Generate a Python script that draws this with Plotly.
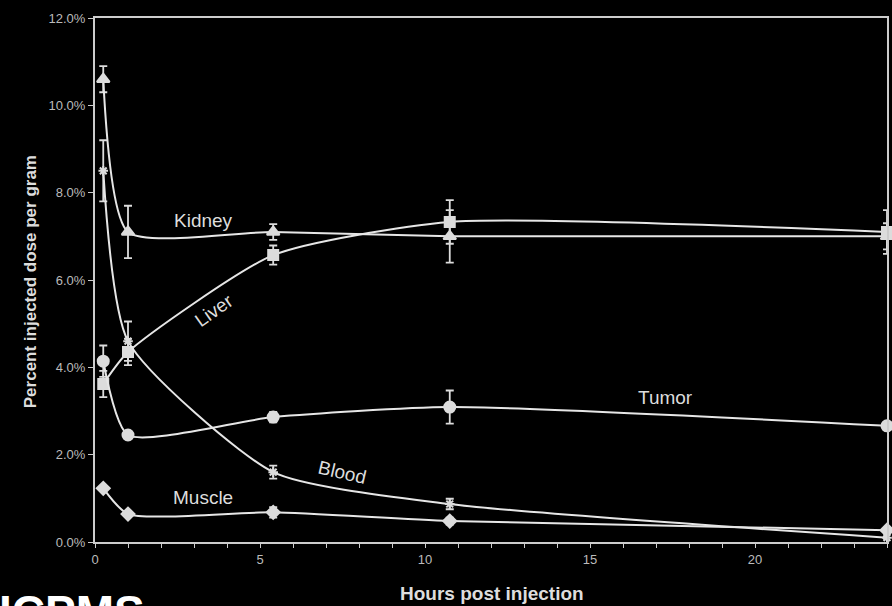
import plotly.graph_objects as go

hours = [0.25, 1.0, 5.4, 10.75, 24.0]

kidney = [10.6, 7.1, 7.1, 7.0, 7.0]
kidney_err = [0.3, 0.6, 0.18, 0.6, 0.3]

liver = [3.62, 4.35, 6.57, 7.33, 7.1]
liver_err = [0.3, 0.3, 0.22, 0.5, 0.5]

tumor = [4.14, 2.45, 2.86, 3.09, 2.66]
tumor_err = [0.36, 0.08, 0.12, 0.38, 0.05]

blood = [8.5, 4.6, 1.6, 0.87, 0.1]
blood_err = [0.7, 0.45, 0.15, 0.12, 0.03]

muscle = [1.23, 0.64, 0.68, 0.48, 0.27]
muscle_err = [0.05, 0.05, 0.12, 0.08, 0.03]

labels = ["Kidney", "Liver", "Tumor", "Blood", "Muscle"]
label_x = [3.3, 3.6, 17.3, 7.5, 3.27]
label_y = [7.37, 5.31, 3.32, 1.6, 1.03]
label_angle = [0, -35, 0, 13, 0]

LINE = "#e6e6e6"
MARK = "#dcdcdc"

series = [
    (kidney, kidney_err, "triangle-up", 11),
    (liver, liver_err, "square", 10),
    (tumor, tumor_err, "circle", 11),
    (blood, blood_err, "asterisk-open", 8),
    (muscle, muscle_err, "diamond", 10),
]

fig = go.Figure()
for vals, errs, sym, size in series:
    fig.add_trace(go.Scatter(
        x=hours, y=vals, mode="lines+markers",
        line=dict(color=LINE, width=2, shape="spline", smoothing=0.6),
        marker=dict(symbol=sym, size=size, color=MARK,
                    line=dict(color=MARK, width=2)),
        error_y=dict(type="data", array=errs, visible=True,
                     color=MARK, thickness=1.8, width=4),
        showlegend=False, cliponaxis=False,
    ))

for t, x, y, a in zip(labels, label_x, label_y, label_angle):
    fig.add_annotation(x=x, y=y, text=t, showarrow=False, textangle=a,
                       xanchor="center", yanchor="middle",
                       font=dict(family="Liberation Sans, Arial", size=19, color="#dddddd"))

fig.add_annotation(xref="paper", yref="paper", x=-0.0819, y=0.496,
                   xanchor="center", yanchor="middle",
                   text="<b>Percent injected dose per gram</b>", textangle=-90,
                   showarrow=False,
                   font=dict(family="Liberation Sans, Arial", size=17, color="#dddddd"))
fig.add_annotation(xref="paper", yref="paper", x=0.501, y=-0.099,
                   xanchor="center", yanchor="middle",
                   text="<b>Hours post injection</b>", showarrow=False,
                   font=dict(family="Liberation Sans, Arial", size=19, color="#dddddd"))
fig.add_annotation(xref="paper", yref="paper", x=-0.1234, y=-0.080,
                   xanchor="left", yanchor="top",
                   text="<b>ICPMS</b>", showarrow=False,
                   font=dict(family="Liberation Sans, Arial", size=46, color="#ffffff"))

fig.update_layout(
    width=892, height=606,
    margin=dict(l=95, r=3, t=18, b=64),
    paper_bgcolor="black", plot_bgcolor="black",
    font=dict(family="Liberation Sans, Arial", color="#bbbbbb", size=12),
    xaxis=dict(range=[0, 24], tick0=0, dtick=5, showgrid=False, zeroline=False,
               showline=True, linecolor="#cccccc", linewidth=2, mirror=True,
               ticks="outside", ticklen=4, tickcolor="#cccccc",
               minor=dict(dtick=1, ticks="outside", ticklen=4, tickcolor="#cccccc"),
               tickfont=dict(size=13, color="#bbbbbb")),
    yaxis=dict(range=[0, 12], dtick=2, tickformat=".1f", ticksuffix="%",
               showgrid=False, zeroline=False,
               showline=True, linecolor="#cccccc", linewidth=2, mirror=True,
               ticks="outside", ticklen=5, tickcolor="#cccccc",
               tickfont=dict(size=13, color="#bbbbbb")),
)

fig.write_html("out.html")
